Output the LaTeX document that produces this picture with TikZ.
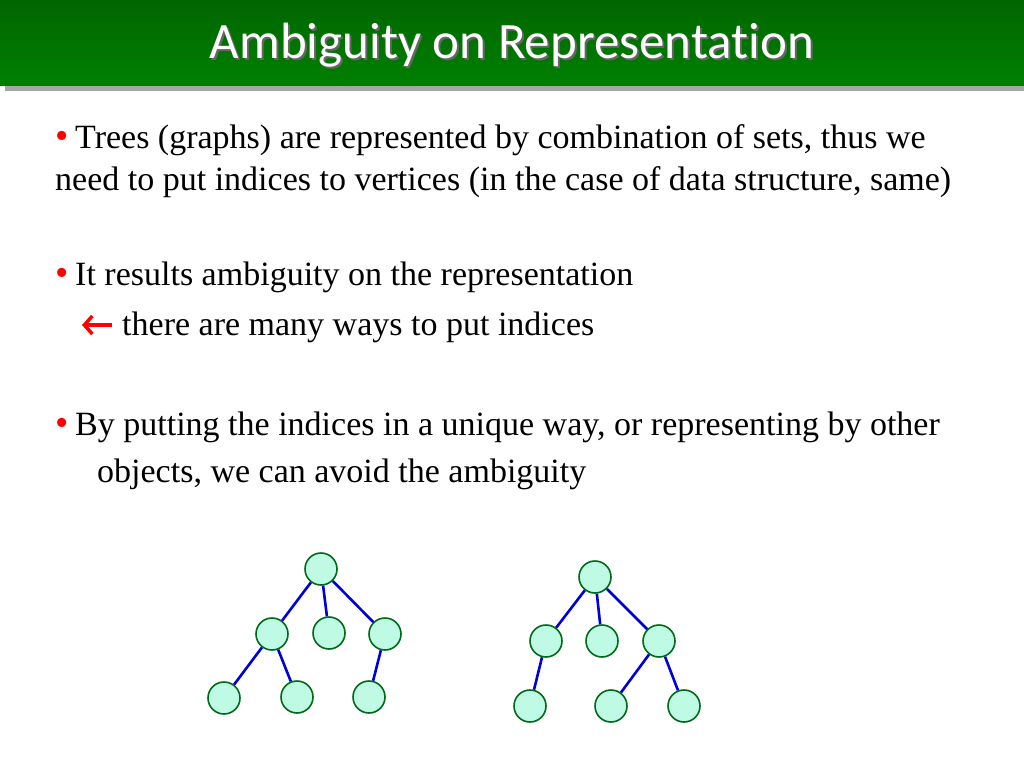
\documentclass[tikz,border=0pt]{standalone}
\usepackage{fontspec}
\usetikzlibrary{arrows.meta}
\setmainfont{Liberation Serif}
\newfontfamily\titlefont[Ligatures=NoCommon]{Carlito}
\begin{document}
\begin{tikzpicture}[x=1pt,y=-1pt,
  vert/.style={circle,draw=green!35!black!90!cyan,fill={rgb,255:red,190;green,250;blue,228},line width=1.6pt,minimum size=32pt,inner sep=0pt},
  edge/.style={blue!85!black,line width=2.6pt},
  txt/.style={anchor=base west,inner sep=0pt,font=\fontsize{34}{40}\selectfont},
  bul/.style={anchor=base west,inner sep=0pt,text=red,font=\fontsize{38}{40}\selectfont}]
\useasboundingbox (0,0) rectangle (1024,768);
\fill[gray!70] (5,84) rectangle (1024,91);
\shade[top color=green!40!black,bottom color=green!50!black] (0,0) rectangle (1024,85);
\node[text=black!60,font=\titlefont\fontsize{51}{56}\selectfont] at (514,47) {Ambiguity on Representation};
\node (title) [text=white,font=\titlefont\fontsize{51}{56}\selectfont] at (512,45) {Ambiguity on Representation};
\node (b1) [bul] at (55,148) {•};
\node (t1) [txt] at (75,148) {Trees (graphs) are represented by combination of sets, thus we};
\node (t2) [txt] at (55,190) {need to put indices to vertices (in the case of data structure, same)};
\node (b2) [bul] at (55,285) {•};
\node (t3) [txt] at (75,285) {It results ambiguity on the representation};
\coordinate (as) at (112,325);
\coordinate (ae) at (82,325);
\draw[red,line width=3.5pt,-{Straight Barb[length=8pt,width=18pt,line width=3.5pt]}] (as) -- (ae);
\node (t4) [txt] at (122,335) {there are many ways to put indices};
\node (b3) [bul] at (55,435) {•};
\node (t5) [txt] at (75,435) {By putting the indices in a unique way, or representing by other};
\node (t6) [txt] at (97,482) {objects, we can avoid the ambiguity};
% tree 1
\node[vert] (r1) at (321,569) {};
\node[vert] (a1) at (272,634) {};
\node[vert] (a2) at (329,633) {};
\node[vert] (a3) at (385,634) {};
\node[vert] (c1) at (224,698) {};
\node[vert] (c2) at (297,697) {};
\node[vert] (c3) at (369,697) {};
\draw[edge] (r1)--(a1) (r1)--(a2) (r1)--(a3) (a1)--(c1) (a1)--(c2) (a3)--(c3);
% tree 2
\node[vert] (r2) at (595,577) {};
\node[vert] (d1) at (546,641) {};
\node[vert] (d2) at (602,641) {};
\node[vert] (d3) at (659,641) {};
\node[vert] (e1) at (530,706) {};
\node[vert] (e2) at (611,706) {};
\node[vert] (e3) at (684,706) {};
\draw[edge] (r2)--(d1) (r2)--(d2) (r2)--(d3) (d1)--(e1) (d3)--(e2) (d3)--(e3);
\end{tikzpicture}
\end{document}
